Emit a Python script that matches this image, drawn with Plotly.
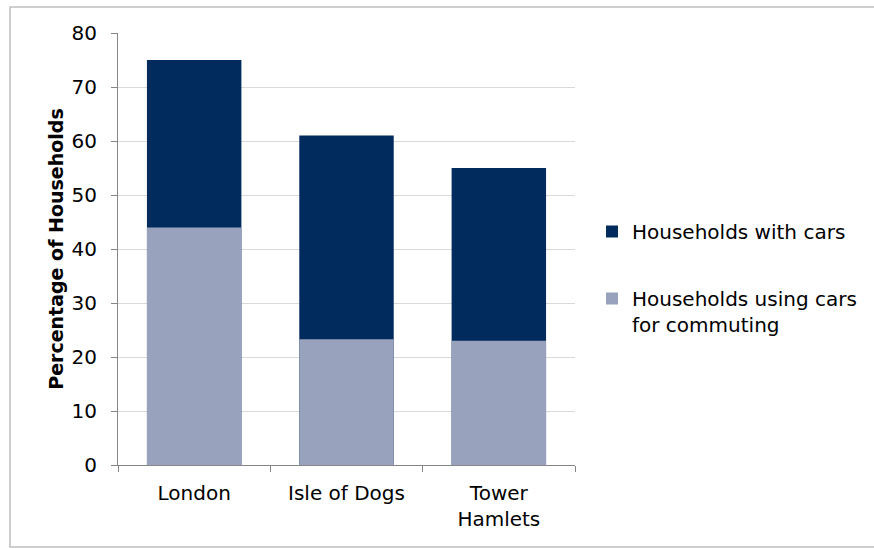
import plotly.graph_objects as go

categories = ["London", "Isle of Dogs", "Tower<br>Hamlets"]
with_cars = [75, 61, 55]
commuting = [44, 23.3, 23]
y_ticks = [0, 10, 20, 30, 40, 50, 60, 70, 80]

DARK = "#012B5C"
LIGHT = "#98A2BC"
FONT = "DejaVu Sans"

fig = go.Figure()
fig.add_trace(go.Bar(x=categories, y=with_cars, name="Households with cars",
                     marker=dict(color=DARK, line=dict(width=0)), legendgroup="a"))
fig.add_trace(go.Bar(x=categories, y=commuting, name="Households using cars<br>for commuting",
                     marker=dict(color=LIGHT, line=dict(width=0)), legendgroup="b"))

L, R, T, B = 118, 575, 33, 465
W, H = 874, 548
pw, ph = R - L, B - T

def px(x):
    return (x - L) / pw

def py(y):
    return (B - y) / ph

fig.update_layout(
    width=W, height=H,
    margin=dict(l=L, r=W - R, t=T, b=H - B),
    barmode="overlay", bargap=0.38,
    plot_bgcolor="white", paper_bgcolor="white",
    font=dict(family=FONT, size=20, color="#000000"),
    showlegend=True,
    legend=dict(x=px(592), y=py(212), xanchor="left", yanchor="top",
                font=dict(size=20), tracegroupgap=38, traceorder="grouped",
                itemwidth=30, valign="top", bgcolor="rgba(0,0,0,0)"),
    shapes=[dict(type="rect", xref="paper", yref="paper",
                 x0=px(10), x1=px(900), y0=py(547), y1=py(7),
                 line=dict(color="#BFBFBF", width=1.5), layer="below")],
)
fig.update_yaxes(range=[0, 80], tickvals=y_ticks, showgrid=True, gridcolor="#D9D9D9",
                 gridwidth=1, showline=True, linecolor="#868686", linewidth=1,
                 ticks="outside", ticklen=6, tickcolor="#868686", zeroline=False,
                 tickfont=dict(size=20), ticklabelstandoff=10,
                 title=dict(text="<b>Percentage of Households</b>", font=dict(size=19), standoff=2))
fig.update_xaxes(showline=True, linecolor="#868686", linewidth=1, ticks="outside",
                 tickson="boundaries", ticklen=6, tickcolor="#868686",
                 tickfont=dict(size=20), ticklabelstandoff=10)

fig.write_html("out.html", post_script="document.body.style.margin='0';",
               config={"displayModeBar": False})
